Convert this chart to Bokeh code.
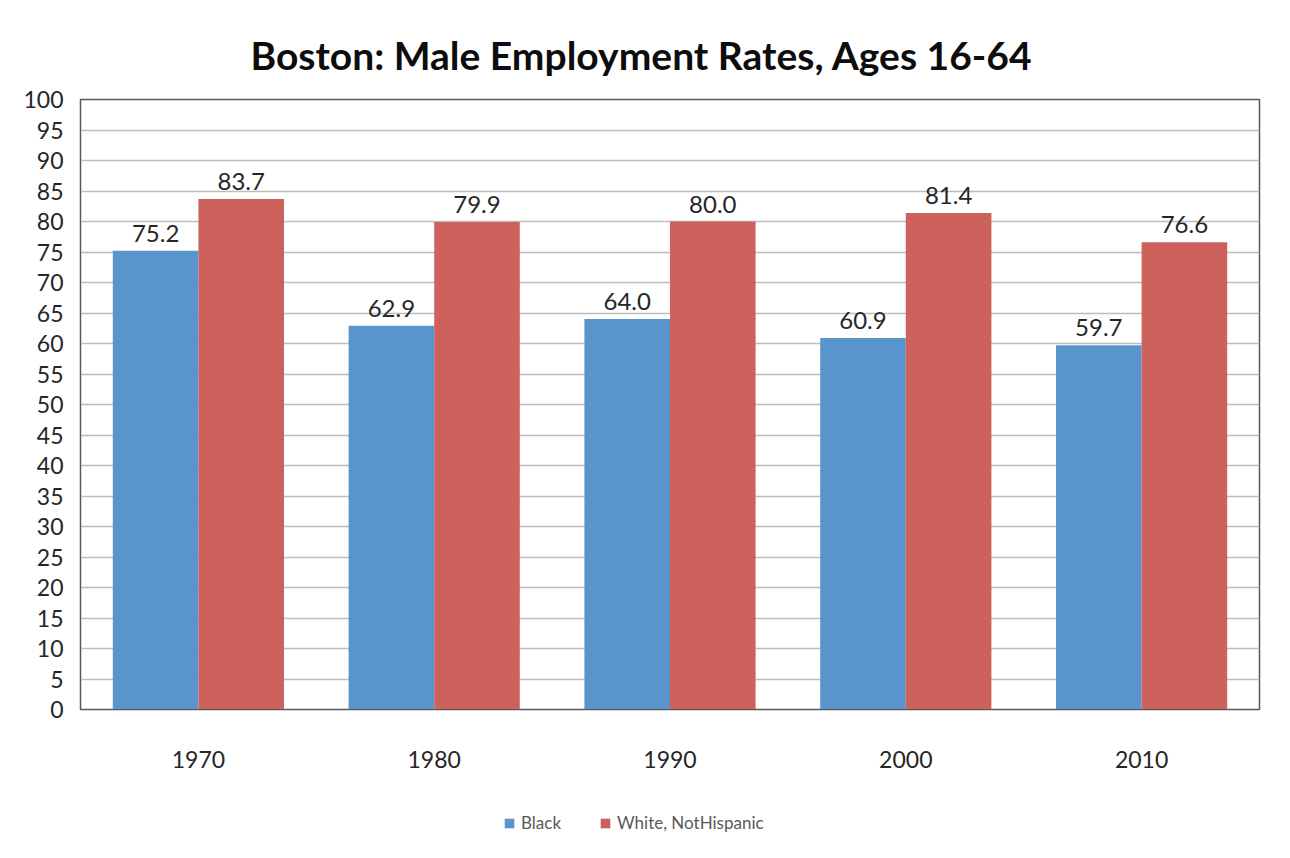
from bokeh.plotting import figure
from bokeh.layouts import column
from bokeh.models import (ColumnDataSource, Range1d, FactorRange, LabelSet, Legend, LegendItem,
                          SingleIntervalTicker)
from bokeh.transform import dodge
from bokeh.embed import file_html
from bokeh.resources import INLINE
from bokeh.core.properties import value

years = ["1970", "1980", "1990", "2000", "2010"]
black = [75.2, 62.9, 64.0, 60.9, 59.7]
white = [83.7, 79.9, 80.0, 81.4, 76.6]
series_names = ["Black", "White, NotHispanic"]
title_text = "Boston: Male Employment Rates, Ages 16-64"

BLUE = "#5A94CC"
RED = "#CD615B"
FONT = "Lato"
AXIS = "#595959"

src = ColumnDataSource(dict(
    year=years, black=black, white=white,
    black_lbl=[f"{v:.1f}" for v in black],
    white_lbl=[f"{v:.1f}" for v in white],
))

W, H = 1274, 795
ML, MR, MT, MB = 80, 15, 99, 86
p = figure(width=W, height=H, x_range=FactorRange(*years), y_range=Range1d(0, 100),
           output_backend="svg", toolbar_location=None,
           min_border_left=ML, min_border_right=MR, min_border_top=MT, min_border_bottom=MB)

p.title.text = title_text
p.title.align = "left"
p.title.offset = 170
p.title.text_font = FONT
p.title.text_font_style = "bold"
p.title.text_font_size = "39px"
p.title.text_color = "#0d0d0d"
p.title.standoff = 43

bw = 0.363
r1 = p.vbar(x=dodge("year", -bw / 2, range=p.x_range), top="black", width=bw,
            source=src, fill_color=BLUE, line_color=None)
r2 = p.vbar(x=dodge("year", bw / 2, range=p.x_range), top="white", width=bw,
            source=src, fill_color=RED, line_color=None)

for col, off in (("black", -bw / 2), ("white", bw / 2)):
    p.add_layout(LabelSet(x=dodge("year", off, range=p.x_range), y=col, text=col + "_lbl",
                          source=src, text_align="center", text_baseline="bottom",
                          y_offset=9, text_font=value(FONT), text_font_size="24px",
                          text_color="#262626"))

p.outline_line_color = AXIS
p.outline_line_width = 1.5
p.background_fill_color = "white"
p.border_fill_color = "white"

p.xgrid.grid_line_color = None
p.ygrid.grid_line_color = "#BDBDBD"
p.ygrid.grid_line_width = 1.5

p.yaxis.ticker = SingleIntervalTicker(interval=5)
p.yaxis.axis_line_color = AXIS
p.yaxis.major_tick_line_color = None
p.yaxis.major_tick_out = 0
p.yaxis.major_tick_in = 0
p.yaxis.minor_tick_line_color = None
p.yaxis.major_label_standoff = 13
p.yaxis.major_label_text_font = FONT
p.yaxis.major_label_text_font_size = "23px"
p.yaxis.major_label_text_color = "#262626"

p.xaxis.axis_line_color = AXIS
p.xaxis.major_tick_line_color = None
p.xaxis.major_tick_out = 0
p.xaxis.major_tick_in = 0
p.xaxis.major_label_standoff = 41
p.xaxis.major_label_text_font = FONT
p.xaxis.major_label_text_font_size = "23px"
p.xaxis.major_label_text_color = "#262626"

# legend strip below the chart (proxy glyphs sit outside the strip's visible range)
lf = figure(width=W, height=47, x_range=Range1d(0, 1), y_range=Range1d(0, 1),
            output_backend="svg", toolbar_location=None,
            x_axis_location=None, y_axis_location=None,
            min_border_left=0, min_border_right=0, min_border_top=0, min_border_bottom=0)
lf.grid.grid_line_color = None
lf.outline_line_color = None
lf.border_fill_color = "white"
proxy = ColumnDataSource(dict(x=[-5.0], y=[-5.0]))
g1 = lf.rect(x="x", y="y", width=0.1, height=0.1, source=proxy,
             fill_color=BLUE, line_color=None)
g2 = lf.rect(x="x", y="y", width=0.1, height=0.1, source=proxy,
             fill_color=RED, line_color=None)
legend = Legend(items=[LegendItem(label=series_names[0], renderers=[g1]),
                       LegendItem(label=series_names[1], renderers=[g2])],
                orientation="horizontal", location=(423, 9),
                label_text_font=FONT, label_text_font_size="17px", label_text_color="#595959",
                glyph_width=12, glyph_height=12, spacing=38, label_standoff=6,
                border_line_color=None, background_fill_alpha=0, padding=2, margin=0)
lf.add_layout(legend, "center")

layout = column(p, lf, spacing=0)
open("out.html", "w").write(file_html(layout, INLINE))
